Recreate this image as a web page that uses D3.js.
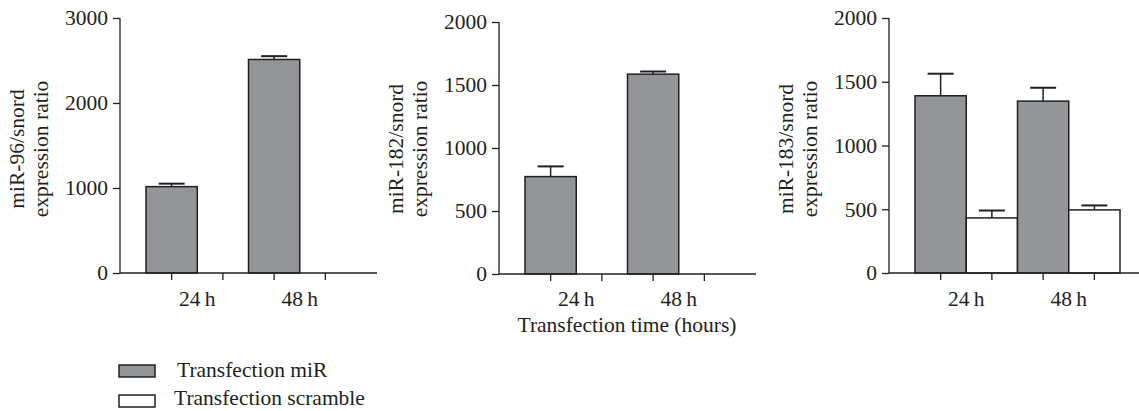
<!DOCTYPE html>
<html>
<head>
<meta charset="utf-8">
<script src="https://cdn.jsdelivr.net/npm/d3@7"></script>
<style>
  body { margin: 0; background: #fff; }
  svg text { font-family: "Liberation Serif", "Times New Roman", serif; fill: #231f20; }
</style>
</head>
<body>
<script>
const categories = ["24 h", "48 h"];
const series = ["Transfection miR", "Transfection scramble"];

// miR-96
const mir96 = [1016, 2512];
const mir96Err = [35, 39];
// miR-182
const mir182 = [773, 1586];
const mir182Err = [81, 21];
// miR-183
const mir183 = [1390, 1348];
const mir183Err = [173, 105];
const scr183 = [432, 495];
const scr183Err = [58, 35];

const ticks96 = [0, 1000, 2000, 3000];
const ticks18x = [0, 500, 1000, 1500, 2000];

const w = 1139, h = 411;
const ink = "#231f20";
const gray = "#939598";
const fontSize = 21.5;

const svg = d3.select("body").append("svg")
  .attr("width", w)
  .attr("height", h);

const panels = [
  { label: "miR-96/snord", ax: 120, y0: 273, y1: 18, max: 3000, ticks: ticks96,
    vals: [mir96, null], errs: [mir96Err, null] },
  { label: "miR-182/snord", ax: 499, y0: 274, y1: 22, max: 2000, ticks: ticks18x,
    vals: [mir182, null], errs: [mir182Err, null], xTitle: "Transfection time (hours)" },
  { label: "miR-183/snord", ax: 889, y0: 273, y1: 18, max: 2000, ticks: ticks18x,
    vals: [mir183, scr183], errs: [mir183Err, scr183Err] }
];

const slots = [];
categories.forEach(c => series.forEach(s => slots.push(c + "|" + s)));

panels.forEach(p => {
  const g = svg.append("g");
  const y = d3.scaleLinear().domain([0, p.max]).range([p.y0, p.y1]);
  const x = d3.scaleBand().domain(slots).range([p.ax + 26, p.ax + 231]);

  // bars
  const rows = [];
  categories.forEach((c, i) => series.forEach((s, j) => {
    if (p.vals[j]) rows.push({ slot: c + "|" + s, v: p.vals[j][i], e: p.errs[j][i], j: j });
  }));

  // error bars (upper only)
  const eb = g.selectAll(".err").data(rows).enter().append("g");
  eb.append("line")
    .attr("x1", d => x(d.slot) + x.bandwidth() / 2)
    .attr("x2", d => x(d.slot) + x.bandwidth() / 2)
    .attr("y1", d => y(d.v))
    .attr("y2", d => y(d.v + d.e))
    .attr("stroke", ink).attr("stroke-width", 1.5);
  eb.append("line")
    .attr("x1", d => x(d.slot) + x.bandwidth() / 2 - 13)
    .attr("x2", d => x(d.slot) + x.bandwidth() / 2 + 13)
    .attr("y1", d => y(d.v + d.e))
    .attr("y2", d => y(d.v + d.e))
    .attr("stroke", ink).attr("stroke-width", 2);

  g.selectAll(".bar").data(rows).enter().append("rect")
    .attr("x", d => x(d.slot))
    .attr("y", d => y(d.v))
    .attr("width", x.bandwidth())
    .attr("height", d => y(0) - y(d.v))
    .attr("fill", d => d.j === 0 ? gray : "#fff")
    .attr("stroke", ink)
    .attr("stroke-width", 1.5);

  // y axis
  const yAxis = d3.axisLeft(y).tickValues(p.ticks).tickSize(7).tickPadding(5).tickFormat(d3.format("d"));
  const ya = g.append("g").attr("transform", `translate(${p.ax},0)`).call(yAxis);
  ya.select(".domain").attr("d", `M0,${p.y1}V${p.y0}`);

  // x axis
  const xa = g.append("g").attr("transform", `translate(0,${p.y0})`)
    .call(d3.axisBottom(x).tickSize(7).tickFormat(""));
  xa.select(".domain").attr("d", `M${p.ax},0H${p.ax + 257}`);

  [ya, xa].forEach(a => {
    a.selectAll(".domain, line").attr("stroke", ink).attr("stroke-width", 1.3);
    a.selectAll("text").attr("font-size", fontSize).attr("font-family", null).attr("fill", ink);
  });

  // group labels
  g.selectAll(".cat").data(categories).enter().append("text")
    .attr("x", c => (x(c + "|" + series[0]) + x(c + "|" + series[1]) + x.bandwidth()) / 2)
    .attr("y", 306)
    .attr("text-anchor", "middle")
    .attr("font-size", fontSize)
    .text(c => c.replace(" ", "\u2009"));

  // y title
  const yt = g.append("text")
    .attr("transform", `translate(0,149) rotate(-90)`)
    .attr("text-anchor", "middle")
    .attr("font-size", fontSize);
  yt.append("tspan").attr("x", 0).attr("y", p.ax - 96).text(p.label);
  yt.append("tspan").attr("x", 0).attr("y", p.ax - 72).text("expression ratio");

  if (p.xTitle) {
    g.append("text")
      .attr("x", p.ax + 128).attr("y", 332)
      .attr("text-anchor", "middle")
      .attr("font-size", fontSize)
      .text(p.xTitle);
  }
});

// legend
const legend = svg.append("g");
series.forEach((s, i) => {
  legend.append("rect")
    .attr("x", 119).attr("y", 365 + i * 30)
    .attr("width", 36).attr("height", 12)
    .attr("fill", i === 0 ? gray : "#fff")
    .attr("stroke", ink).attr("stroke-width", 1.5);
  legend.append("text")
    .attr("x", i === 0 ? 177 : 174).attr("y", 377 + i * 28)
    .attr("font-size", fontSize)
    .text(s);
});
</script>
</body>
</html>
